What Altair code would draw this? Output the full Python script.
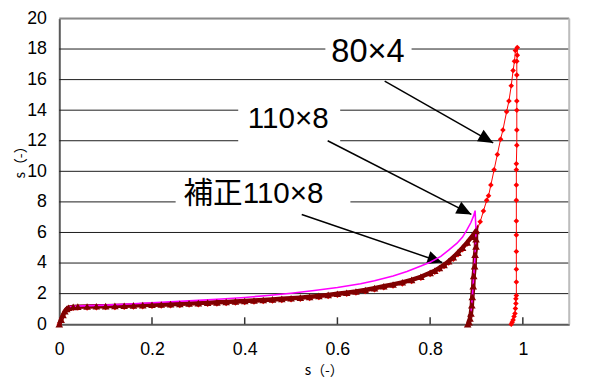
import math
import altair as alt
import pandas as pd

# ---------------- data ----------------
# 80x4 (red, diamond markers)
red_x = [0, 0.004, 0.008, 0.012, 0.016, 0.02, 0.03, 0.04, 0.06, 0.08, 0.10, 0.12, 0.14, 0.16, 0.18,
         0.20, 0.22, 0.24, 0.26, 0.28, 0.30, 0.32, 0.34, 0.36, 0.38, 0.40, 0.42, 0.44, 0.46, 0.48,
         0.50, 0.52, 0.54, 0.56, 0.58, 0.60, 0.62, 0.64, 0.66, 0.68, 0.70, 0.72, 0.74, 0.76, 0.78,
         0.80, 0.81, 0.82, 0.83, 0.84, 0.85, 0.86, 0.87, 0.88, 0.89, 0.90, 0.908, 0.915, 0.922,
         0.926, 0.931, 0.938, 0.945, 0.952, 0.957, 0.965, 0.970, 0.975, 0.979, 0.982, 0.984, 0.988,
         0.988, 0.987, 0.987, 0.987, 0.987, 0.987, 0.987, 0.986, 0.986, 0.986, 0.986, 0.986, 0.986,
         0.986, 0.986, 0.986, 0.986, 0.985, 0.985, 0.984, 0.983, 0.981, 0.979, 0.977, 0.975]
red_y = [0, 0.28, 0.55, 0.8, 0.93, 1.0, 1.04, 1.06, 1.07, 1.08, 1.09, 1.1, 1.11, 1.13, 1.15,
         1.17, 1.19, 1.21, 1.23, 1.26, 1.28, 1.31, 1.33, 1.36, 1.39, 1.42, 1.45, 1.48, 1.52, 1.56,
         1.60, 1.64, 1.69, 1.75, 1.82, 1.89, 1.96, 2.04, 2.14, 2.26, 2.38, 2.5, 2.64, 2.8, 3.0,
         3.26, 3.4, 3.58, 3.78, 4.0, 4.25, 4.55, 4.88, 5.25, 5.65, 6.05, 6.7, 7.4, 8.1,
         8.4, 9.1, 10.1, 11.1, 12.1, 12.7, 13.9, 14.6, 15.6, 16.6, 17.2, 17.9, 18.1,
         17.6, 17.2, 16.3, 14.6, 14.0, 12.7, 11.7, 10.5, 10.1, 9.1, 8.1, 6.75, 5.83,
         4.76, 3.59, 2.76, 1.88, 1.67, 1.35, 1.03, 0.7, 0.5, 0.27, 0.13, 0]

# 110x8 (magenta line)
mag_x = [0, 0.004, 0.008, 0.012, 0.016, 0.02, 0.03, 0.05, 0.1, 0.15, 0.2, 0.25, 0.3, 0.35, 0.4,
         0.45, 0.5, 0.55, 0.6, 0.65, 0.68, 0.72, 0.75, 0.78, 0.8, 0.823, 0.84, 0.858, 0.87, 0.879,
         0.888, 0.894, 0.897, 0.899, 0.897, 0.894, 0.891, 0.888, 0.885, 0.883]
mag_y = [0, 0.32, 0.64, 0.9, 1.05, 1.12, 1.17, 1.2, 1.25, 1.32, 1.4, 1.48, 1.56, 1.65, 1.75,
         1.88, 2.03, 2.2, 2.4, 2.65, 2.84, 3.15, 3.45, 3.8, 4.05, 4.44, 4.85, 5.3, 5.7, 6.15,
         6.65, 7.1, 7.43, 6.1, 4.55, 3.16, 1.78, 0.71, 0.13, 0]

# 補正110x8 (dark red, triangle markers)
dr_x = [0, 0.004, 0.008, 0.012, 0.016, 0.02, 0.03, 0.04, 0.06, 0.08, 0.10, 0.12, 0.14, 0.16, 0.18,
        0.20, 0.22, 0.24, 0.26, 0.28, 0.30, 0.32, 0.34, 0.36, 0.38, 0.40, 0.42, 0.44, 0.46, 0.48,
        0.50, 0.52, 0.54, 0.56, 0.58, 0.60, 0.62, 0.64, 0.66, 0.68, 0.70, 0.72, 0.74, 0.76, 0.78,
        0.80, 0.81, 0.82, 0.83, 0.84, 0.85, 0.86, 0.87, 0.88, 0.89, 0.899,
        0.899, 0.899, 0.897, 0.896, 0.894, 0.893, 0.891, 0.890, 0.888, 0.886, 0.884, 0.881]
dr_y = [0, 0.3, 0.6, 0.85, 1.0, 1.08, 1.13, 1.15, 1.16, 1.17, 1.18, 1.2, 1.21, 1.23, 1.25,
        1.27, 1.29, 1.31, 1.33, 1.36, 1.38, 1.41, 1.43, 1.46, 1.49, 1.52, 1.55, 1.58, 1.62, 1.66,
        1.70, 1.74, 1.79, 1.85, 1.92, 1.99, 2.06, 2.14, 2.24, 2.36, 2.48, 2.6, 2.74, 2.9, 3.1,
        3.36, 3.5, 3.68, 3.88, 4.12, 4.38, 4.68, 5.0, 5.35, 5.72, 6.1,
        5.56, 5.08, 4.55, 3.8, 3.16, 2.48, 1.78, 1.24, 0.71, 0.38, 0.13, 0]

x_ticks = [0, 0.2, 0.4, 0.6, 0.8, 1.0]
y_ticks = [0, 2, 4, 6, 8, 10, 12, 14, 16, 18, 20]
grid_y = [2, 4, 6, 8, 10, 12, 14, 16, 18]

labels = ["80×4", "110×8", "補正110×8"]
label_x = [0.666, 0.494, 0.419]
label_y = [17.82, 13.44, 8.53]
label_size = [33, 30, 30]
box_x1 = [0.574, 0.386, 0.251]
box_x2 = [0.760, 0.606, 0.628]
box_y1 = [17.05, 11.6, 6.6]
box_y2 = [18.97, 14.5, 9.5]
arrow_x1 = [0.702, 0.579, 0.523]
arrow_y1 = [15.9, 12.0, 7.18]
arrow_x2 = [0.936, 0.889, 0.826]
arrow_y2 = [11.86, 7.18, 4.04]

# ---------------- layout ----------------
W, H = 517, 310
XMAX, YMAX = 1.1, 20
FONT = "Liberation Sans, Arial, Noto Sans CJK JP"
TFONT = "Noto Sans CJK JP"

xs = alt.Scale(domain=[0, XMAX], nice=False, zero=False)
ys = alt.Scale(domain=[0, YMAX], nice=False, zero=False)

x_axis = alt.Axis(values=x_ticks, format="~g", grid=False, ticks=False, tickSize=0,
                  labelFlush=False,
                  domainColor="#5a5a5a", domainWidth=2, labelFontSize=18, labelFont=FONT,
                  labelColor="#000", labelPadding=17, title="s（-）", titleFont=TFONT,
                  titleFontSize=14, titleFontWeight="normal", titleColor="#000",
                  titleX=268, titleY=47, titleBaseline="middle", titleAlign="center")
y_axis = alt.Axis(values=y_ticks, grid=False, ticks=False, tickSize=0,
                  labelFlush=False,
                  domainColor="#5a5a5a", domainWidth=2, labelFontSize=18, labelFont=FONT,
                  labelColor="#000", labelPadding=13, title="s（-）", titleFont=TFONT,
                  titleFontSize=14, titleFontWeight="normal", titleColor="#000",
                  titleX=-39, titleY=142, titleAngle=270, titleBaseline="middle", titleAlign="center")


def X(f):
    return alt.X(f, type="quantitative", scale=xs, axis=x_axis)


def Y(f):
    return alt.Y(f, type="quantitative", scale=ys, axis=y_axis)


red = pd.DataFrame({"x": red_x, "y": red_y, "i": range(len(red_x))})
mag = pd.DataFrame({"x": mag_x, "y": mag_y, "i": range(len(mag_x))})
dr = pd.DataFrame({"x": dr_x, "y": dr_y, "i": range(len(dr_x))})
grid = pd.DataFrame({"y": grid_y})
ticks = pd.DataFrame({"x": x_ticks[1:]})
ann = pd.DataFrame({"label": labels, "x": label_x, "y": label_y, "size": label_size,
                    "bx1": box_x1, "bx2": box_x2, "by1": box_y1, "by2": box_y2,
                    "ax1": arrow_x1, "ay1": arrow_y1, "ax2": arrow_x2, "ay2": arrow_y2})
# arrowhead rotation in screen space (clockwise from up)
ann["ang"] = [
    (math.degrees(math.atan2((x2 - x1) * W / XMAX, (y2 - y1) * H / YMAX)) + 360) % 360
    for x1, y1, x2, y2 in zip(arrow_x1, arrow_y1, arrow_x2, arrow_y2)
]

gridlines = alt.Chart(grid).mark_rule(color="#1a1a1a", strokeWidth=1).encode(
    y=Y("y"), x=alt.value(0), x2=alt.value(W))
top_border = alt.Chart(pd.DataFrame({"y": [YMAX]})).mark_rule(color="#8a8a8a", strokeWidth=2).encode(
    y=Y("y"), x=alt.value(0), x2=alt.value(W))
right_border = alt.Chart(pd.DataFrame({"x": [XMAX]})).mark_rule(color="#bdbdbd", strokeWidth=2).encode(
    x=X("x"), y=alt.value(0), y2=alt.value(H))
xticks = alt.Chart(ticks).mark_rule(color="#333", strokeWidth=1.5).encode(
    x=X("x"), y=alt.value(H), y2=alt.value(H - 7))

boxes = alt.Chart(ann).mark_rect(fill="white", stroke=None).encode(
    x=X("bx1"), x2="bx2", y=Y("by1"), y2="by2")
texts = alt.Chart(ann).mark_text(font=FONT, color="#000", align="center", baseline="middle").encode(
    x=X("x"), y=Y("y"), text="label:N", size=alt.Size("size:Q", scale=None, legend=None))
arrows = alt.Chart(ann).mark_rule(color="#000", strokeWidth=1.5).encode(
    x=X("ax1"), y=Y("ay1"), x2="ax2", y2="ay2")
heads = alt.Chart(ann).mark_point(shape="M0,0L-0.45,1L0.45,1Z", size=900, filled=True,
                                  color="#000", opacity=1, strokeWidth=0).encode(
    x=X("ax2"), y=Y("ay2"), angle=alt.Angle("ang:Q", scale=None))

red_line = alt.Chart(red).mark_line(color="#ff0000", strokeWidth=1).encode(
    x=X("x"), y=Y("y"), order="i:Q")
red_pts = alt.Chart(red).mark_point(shape="diamond", size=32, filled=True, color="#ff0000",
                                    opacity=1).encode(x=X("x"), y=Y("y"))
mag_line = alt.Chart(mag).mark_line(color="#ff00ff", strokeWidth=1.6).encode(
    x=X("x"), y=Y("y"), order="i:Q")
dr_line = alt.Chart(dr).mark_line(color="#800000", strokeWidth=4.5).encode(
    x=X("x"), y=Y("y"), order="i:Q")
dr_pts = alt.Chart(dr).mark_point(shape="triangle-up", size=60, filled=True, color="#800000",
                                  opacity=1).encode(x=X("x"), y=Y("y"))

chart = alt.layer(
    gridlines, top_border, right_border, xticks,
    boxes, texts, arrows, heads,
    red_line, red_pts, dr_line, mag_line, dr_pts,
).properties(
    width=W, height=H,
    autosize=alt.AutoSizeParams(type="none"),
    padding={"left": 52, "top": 8, "right": 14, "bottom": 55},
).configure_view(stroke=None).configure(background="white")

chart.save("out.html", embed_options={"renderer": "svg", "actions": False})
